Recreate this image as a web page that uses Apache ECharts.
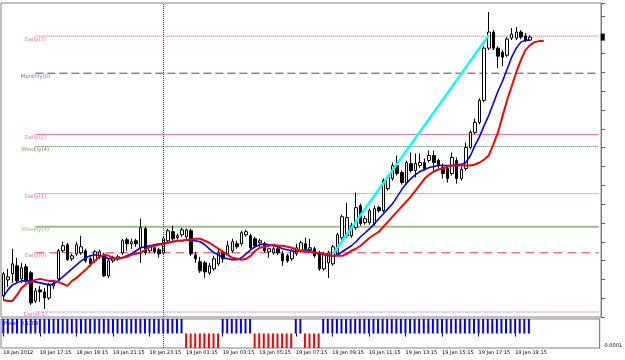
<!DOCTYPE html>
<html>
<head>
<meta charset="utf-8">
<script src="https://cdn.jsdelivr.net/npm/echarts/dist/echarts.min.js"></script>
<style>
html,body{margin:0;padding:0;background:#fff}
#main{width:625px;height:360px}
</style>
</head>
<body>
<div id="main"></div>
<script>
// EURUSD M15, 18 Jan 15:15 .. 19 Jan 20:00
var timeLabels = ['18 Jan 2012', '18 Jan 17:15', '18 Jan 19:15', '18 Jan 21:15', '18 Jan 23:15',
  '19 Jan 01:15', '19 Jan 03:15', '19 Jan 05:15', '19 Jan 07:15', '19 Jan 09:15',
  '19 Jan 11:15', '19 Jan 13:15', '19 Jan 15:15', '19 Jan 17:15', '19 Jan 19:15'];

var opens = [1.28355, 1.28435, 1.28465, 1.28505, 1.28440, 1.28500, 1.28470, 1.28330, 1.28385, 1.28375,
  1.28345, 1.28405, 1.28440, 1.28580, 1.28610, 1.28540, 1.28565, 1.28570, 1.28580, 1.28540,
  1.28530, 1.28550, 1.28555, 1.28455, 1.28530, 1.28540, 1.28570, 1.28635, 1.28615, 1.28630,
  1.28595, 1.28690, 1.28580, 1.28595, 1.28585, 1.28570, 1.28630, 1.28675, 1.28645, 1.28660,
  1.28650, 1.28680, 1.28560, 1.28525, 1.28520, 1.28470, 1.28490, 1.28515, 1.28570, 1.28565,
  1.28580, 1.28615, 1.28615, 1.28660, 1.28655, 1.28640, 1.28620, 1.28615, 1.28575, 1.28570,
  1.28590, 1.28565, 1.28555, 1.28540, 1.28565, 1.28580, 1.28615, 1.28585, 1.28590, 1.28570,
  1.28490, 1.28520, 1.28515, 1.28565, 1.28645, 1.28655, 1.28655, 1.28695, 1.28805, 1.28720,
  1.28720, 1.28715, 1.28795, 1.28780, 1.28890, 1.28940, 1.29005, 1.28970, 1.28920, 1.29015,
  1.28980, 1.29005, 1.29020, 1.29030, 1.29055, 1.29030, 1.28995, 1.28990, 1.28965, 1.29030,
  1.28940, 1.28990, 1.29095, 1.29170, 1.29220, 1.29330, 1.29590, 1.29670, 1.29590, 1.29570,
  1.29555, 1.29640, 1.29640, 1.29670, 1.29650, 1.29630];
var closes = [1.28465, 1.28450, 1.28515, 1.28430, 1.28495, 1.28430, 1.28320, 1.28380, 1.28375, 1.28345,
  1.28410, 1.28415, 1.28580, 1.28605, 1.28535, 1.28555, 1.28610, 1.28600, 1.28530, 1.28515,
  1.28575, 1.28575, 1.28455, 1.28530, 1.28545, 1.28550, 1.28630, 1.28615, 1.28625, 1.28615,
  1.28695, 1.28570, 1.28600, 1.28575, 1.28565, 1.28640, 1.28680, 1.28640, 1.28655, 1.28685,
  1.28685, 1.28565, 1.28540, 1.28480, 1.28475, 1.28505, 1.28540, 1.28570, 1.28540, 1.28605,
  1.28625, 1.28600, 1.28670, 1.28675, 1.28595, 1.28605, 1.28630, 1.28580, 1.28590, 1.28590,
  1.28570, 1.28530, 1.28530, 1.28580, 1.28595, 1.28620, 1.28590, 1.28595, 1.28555, 1.28490,
  1.28565, 1.28570, 1.28600, 1.28660, 1.28750, 1.28745, 1.28705, 1.28795, 1.28715, 1.28740,
  1.28780, 1.28790, 1.28780, 1.28930, 1.28945, 1.29005, 1.28965, 1.28920, 1.29020, 1.28980,
  1.29015, 1.29020, 1.28990, 1.29055, 1.29020, 1.29005, 1.28965, 1.28940, 1.29045, 1.28940,
  1.28985, 1.29095, 1.29170, 1.29220, 1.29330, 1.29590, 1.29670, 1.29590, 1.29550, 1.29545,
  1.29635, 1.29660, 1.29670, 1.29645, 1.29630, 1.29645];
var highs = [1.28475, 1.28490, 1.28590, 1.28545, 1.28520, 1.28515, 1.28480, 1.28395, 1.28405, 1.28395,
  1.28420, 1.28430, 1.28590, 1.28625, 1.28620, 1.28565, 1.28625, 1.28655, 1.28590, 1.28550,
  1.28585, 1.28585, 1.28570, 1.28540, 1.28555, 1.28560, 1.28640, 1.28645, 1.28640, 1.28640,
  1.28740, 1.28700, 1.28610, 1.28605, 1.28595, 1.28650, 1.28690, 1.28705, 1.28665, 1.28695,
  1.28690, 1.28690, 1.28575, 1.28550, 1.28530, 1.28520, 1.28555, 1.28590, 1.28580, 1.28630,
  1.28640, 1.28630, 1.28680, 1.28685, 1.28665, 1.28650, 1.28640, 1.28625, 1.28595, 1.28600,
  1.28605, 1.28580, 1.28565, 1.28590, 1.28615, 1.28630, 1.28645, 1.28640, 1.28600, 1.28580,
  1.28575, 1.28580, 1.28610, 1.28670, 1.28760, 1.28820, 1.28720, 1.28870, 1.28815, 1.28755,
  1.28790, 1.28805, 1.28805, 1.28940, 1.28955, 1.29020, 1.29055, 1.28980, 1.29030, 1.29070,
  1.29065, 1.29065, 1.29040, 1.29080, 1.29080, 1.29040, 1.29015, 1.29005, 1.29070, 1.29045,
  1.29000, 1.29120, 1.29180, 1.29240, 1.29340, 1.29600, 1.29770, 1.29680, 1.29600, 1.29580,
  1.29645, 1.29690, 1.29695, 1.29680, 1.29665, 1.29655];
var lows = [1.28330, 1.28400, 1.28420, 1.28420, 1.28420, 1.28420, 1.28310, 1.28320, 1.28325, 1.28290,
  1.28335, 1.28390, 1.28430, 1.28570, 1.28530, 1.28530, 1.28555, 1.28560, 1.28520, 1.28500,
  1.28520, 1.28540, 1.28450, 1.28445, 1.28520, 1.28530, 1.28560, 1.28580, 1.28590, 1.28600,
  1.28520, 1.28560, 1.28570, 1.28565, 1.28545, 1.28565, 1.28620, 1.28630, 1.28635, 1.28650,
  1.28640, 1.28555, 1.28520, 1.28470, 1.28445, 1.28460, 1.28480, 1.28505, 1.28520, 1.28555,
  1.28570, 1.28590, 1.28605, 1.28650, 1.28585, 1.28595, 1.28600, 1.28570, 1.28545, 1.28560,
  1.28560, 1.28505, 1.28520, 1.28530, 1.28555, 1.28570, 1.28580, 1.28575, 1.28545, 1.28480,
  1.28480, 1.28445, 1.28505, 1.28555, 1.28635, 1.28645, 1.28645, 1.28685, 1.28705, 1.28710,
  1.28710, 1.28705, 1.28770, 1.28770, 1.28880, 1.28930, 1.28955, 1.28910, 1.28910, 1.28970,
  1.28945, 1.28995, 1.28980, 1.29020, 1.28970, 1.28990, 1.28940, 1.28920, 1.28955, 1.28915,
  1.28930, 1.28980, 1.29085, 1.29160, 1.29210, 1.29320, 1.29580, 1.29580, 1.29490, 1.29500,
  1.29545, 1.29630, 1.29630, 1.29635, 1.29620, 1.29625];

// blue and red moving averages (red one is shifted 3 bars forward)
var maBlue = [1.28350, 1.28385, 1.28410, 1.28420, 1.28430, 1.28430, 1.28430, 1.28425, 1.28420, 1.28415,
  1.28410, 1.28415, 1.28430, 1.28450, 1.28470, 1.28490, 1.28510, 1.28530, 1.28545, 1.28555,
  1.28560, 1.28555, 1.28550, 1.28540, 1.28540, 1.28540, 1.28545, 1.28555, 1.28565, 1.28580,
  1.28595, 1.28600, 1.28605, 1.28610, 1.28615, 1.28615, 1.28620, 1.28625, 1.28630, 1.28630,
  1.28635, 1.28630, 1.28630, 1.28625, 1.28610, 1.28590, 1.28570, 1.28560, 1.28545, 1.28540,
  1.28535, 1.28535, 1.28545, 1.28565, 1.28585, 1.28600, 1.28610, 1.28615, 1.28610, 1.28605,
  1.28600, 1.28590, 1.28585, 1.28580, 1.28575, 1.28580, 1.28585, 1.28580, 1.28570, 1.28565,
  1.28560, 1.28555, 1.28555, 1.28560, 1.28575, 1.28590, 1.28605, 1.28625, 1.28650, 1.28670,
  1.28690, 1.28715, 1.28740, 1.28765, 1.28790, 1.28815, 1.28850, 1.28885, 1.28915, 1.28940,
  1.28960, 1.28975, 1.28985, 1.28995, 1.29000, 1.29005, 1.29005, 1.29005, 1.29005, 1.29010,
  1.29010, 1.29020, 1.29055, 1.29105, 1.29150, 1.29205, 1.29255, 1.29315, 1.29375, 1.29425,
  1.29485, 1.29545, 1.29590, 1.29620, 1.29630, 1.29630];
var maRed = [1.28335, 1.28330, 1.28330, 1.28360, 1.28395, 1.28415, 1.28425, 1.28435, 1.28440, 1.28435,
  1.28430, 1.28430, 1.28425, 1.28415, 1.28405, 1.28430, 1.28445, 1.28465, 1.28485, 1.28510,
  1.28530, 1.28550, 1.28560, 1.28555, 1.28545, 1.28540, 1.28545, 1.28550, 1.28560, 1.28565,
  1.28570, 1.28585, 1.28600, 1.28605, 1.28610, 1.28615, 1.28620, 1.28625, 1.28630, 1.28630,
  1.28635, 1.28635, 1.28640, 1.28640, 1.28630, 1.28620, 1.28605, 1.28590, 1.28575, 1.28560,
  1.28545, 1.28540, 1.28535, 1.28540, 1.28555, 1.28580, 1.28595, 1.28600, 1.28605, 1.28610,
  1.28605, 1.28605, 1.28600, 1.28595, 1.28585, 1.28580, 1.28575, 1.28575, 1.28570, 1.28570,
  1.28565, 1.28560, 1.28555, 1.28555, 1.28555, 1.28565, 1.28580, 1.28590, 1.28605, 1.28625,
  1.28645, 1.28660, 1.28675, 1.28700, 1.28725, 1.28750, 1.28775, 1.28800, 1.28825, 1.28850,
  1.28880, 1.28910, 1.28940, 1.28960, 1.28975, 1.28985, 1.28990, 1.29000, 1.29005, 1.29005,
  1.29005, 1.29005, 1.29005, 1.29010, 1.29020, 1.29035, 1.29055, 1.29110, 1.29170, 1.29250,
  1.29330, 1.29400, 1.29470, 1.29530, 1.29580, 1.29605, 1.29620, 1.29625, 1.29625];

// cyan trendline: [bar, price]
var trendLine = [[72, 1.28565], [106, 1.29655]];

// pivot levels
var pivotNames = ['Daily(3)', 'Monthly(0)', 'Daily(2)', 'Weekly(4)', 'Daily(1)', 'Weekly(3)', 'Daily(0)', 'Daily(-1)'];
var pivotValues = [1.29650, 1.29465, 1.29160, 1.29100, 1.28865, 1.28700, 1.28570, 1.28275];
var pivotColors = ['#ff3366', '#40409c', '#ff6699', '#208020', '#ff3366', '#99c080', '#ff3355', '#ff3366'];
var pivotTypes = ['dotted', [8, 4], 'solid', 'dotted', 'dotted', 'solid', [9, 5], 'dotted'];
var pivotWidths = [1, 1, 1, 1, 1, 2, 1, 1];
var labelColors = ['#ff5080', '#5050b0', '#ff5080', '#607030', '#ff5080', '#90a060', '#ff5080', '#ff5080'];

// Power histogram
var P = 0.0001, N = -0.0001;
var power = [P, P, P, P, P, P, P, P, P, P,
  P, P, P, P, P, P, P, P, P, P,
  P, P, P, P, P, P, P, P, P, P,
  P, P, P, P, P, P, P, P, P, P,
  N, N, N, N, N, N, N, N, P, P,
  P, P, P, P, P, N, N, N, N, N,
  N, N, N, N, P, P, N, N, N, N,
  P, P, P, P, P, P, P, P, P, P,
  P, P, P, P, P, P, P, P, P, P,
  P, P, P, P, P, P, P, P, P, P,
  P, P, P, P, P, P, P, P, P, P,
  P, P, P, P, P, P];

var dayBreak = '35';

var slots = [];
for (var i = 0; i < 131; i++) slots.push(String(i));

var candles = [];
for (var i = 0; i < opens.length; i++) {
  candles.push([opens[i], closes[i], lows[i], highs[i]]);
}

var lastClose = closes[closes.length - 1];

var myChart = echarts.init(document.getElementById('main'));
var font = 'DejaVu Sans';

function showTime(idx) { return idx % 8 === 0 && idx / 8 < timeLabels.length; }

var series = [];
// pivot lines, each its own short series so dash patterns keep their colour
for (var k = 0; k < pivotNames.length; k++) {
  series.push({
    name: pivotNames[k], type: 'line', xAxisIndex: 0, yAxisIndex: 0, z: 1, silent: true,
    data: [[7, pivotValues[k]], [130, pivotValues[k]]], showSymbol: false,
    lineStyle: {color: pivotColors[k], type: pivotTypes[k], width: pivotWidths[k]}
  });
}
var pivotLabels = [];
for (var k = 0; k < pivotNames.length; k++) {
  pivotLabels.push({value: [7, pivotValues[k]], name: pivotNames[k], label: {color: labelColors[k]}});
}

series.push(
  {
    name: 'EURUSD', type: 'candlestick', xAxisIndex: 0, yAxisIndex: 0, data: candles, barWidth: 3,
    itemStyle: {color: '#ffffff', color0: '#000000', borderColor: '#000000', borderColor0: '#000000', borderWidth: 1},
    markLine: {silent: true, symbol: ['none', 'none'], label: {show: false}, data: [
      {yAxis: lastClose, lineStyle: {color: '#c8c8c8', type: 'solid', width: 1}},
      {xAxis: dayBreak, lineStyle: {color: '#404040', type: 'dotted', width: 1}}
    ]},
    markPoint: {silent: true, data: [{coord: [130, lastClose], symbol: 'rect', symbolSize: [4, 7],
      symbolOffset: [4, 0], itemStyle: {color: '#000'}, label: {show: false}}]}
  },
  {
    name: 'MA blue', type: 'line', xAxisIndex: 0, yAxisIndex: 0, data: maBlue, showSymbol: false,
    lineStyle: {color: '#0000ff', width: 1.6}
  },
  {
    name: 'MA red', type: 'line', xAxisIndex: 0, yAxisIndex: 0, data: maRed, showSymbol: false,
    lineStyle: {color: '#ff0000', width: 2}
  },
  {
    name: 'trend', type: 'line', xAxisIndex: 0, yAxisIndex: 0, data: trendLine, showSymbol: false,
    lineStyle: {color: '#00ffff', width: 2.5}
  },
  {
    name: 'pivot labels', type: 'scatter', xAxisIndex: 0, yAxisIndex: 0, data: pivotLabels, symbolSize: 0,
    label: {show: true, position: 'bottom', distance: 0, fontSize: 5.5, fontFamily: font, formatter: '{b}'}
  },
  {
    name: 'Power', type: 'bar', xAxisIndex: 1, yAxisIndex: 1, data: power, barWidth: 2,
    itemStyle: {color: function (p) { return p.value > 0 ? '#0000ff' : '#ff0000'; }},
    markLine: {silent: true, symbol: ['none', 'none'], label: {show: false},
      data: [{xAxis: dayBreak, lineStyle: {color: '#404040', type: 'dotted', width: 1}}]}
  }
);

var option = {
  animation: false,
  backgroundColor: '#ffffff',
  grid: [
    {left: 1, top: 3, width: 600, height: 314, show: true, borderColor: '#808080', borderWidth: 1},
    {left: 1, top: 319, width: 600, height: 29, show: true, borderColor: '#808080', borderWidth: 1}
  ],
  xAxis: [
    {type: 'category', gridIndex: 0, data: slots, boundaryGap: true,
      axisLine: {show: false}, axisTick: {show: false}, axisLabel: {show: false}, splitLine: {show: false}},
    {type: 'category', gridIndex: 1, data: slots, boundaryGap: true,
      axisLine: {show: false},
      axisTick: {show: true, alignWithLabel: true, interval: showTime, length: 3, lineStyle: {color: '#000'}},
      axisLabel: {interval: showTime, align: 'left', margin: 2, fontSize: 5, fontFamily: font, color: '#000',
        formatter: function (v, idx) { return timeLabels[idx / 8] || ''; }},
      splitLine: {show: false}}
  ],
  yAxis: [
    {type: 'value', gridIndex: 0, position: 'right', min: 1.2825, max: 1.29815, interval: 0.0009375,
      axisLine: {show: true, lineStyle: {color: '#808080'}},
      axisTick: {show: true, length: 4, lineStyle: {color: '#606060'}},
      axisLabel: {show: false}, splitLine: {show: false}},
    {type: 'value', gridIndex: 1, position: 'right', min: -0.0001, max: 0.0001, interval: 0.0001,
      axisLine: {show: true, lineStyle: {color: '#808080'}}, axisTick: {show: false},
      axisLabel: {show: true, margin: 3, fontSize: 5, fontFamily: font, color: '#000', verticalAlign: 'bottom',
        formatter: function (v) { return v < 0 ? '-0.0001' : ''; }},
      splitLine: {show: false}}
  ],
  series: series,
  graphic: [
    {type: 'text', left: 4, top: 321, style: {text: 'Power 0.1104', fontSize: 5, fontFamily: font, fill: '#000'}}
  ]
};

myChart.setOption(option);
</script>
</body>
</html>
